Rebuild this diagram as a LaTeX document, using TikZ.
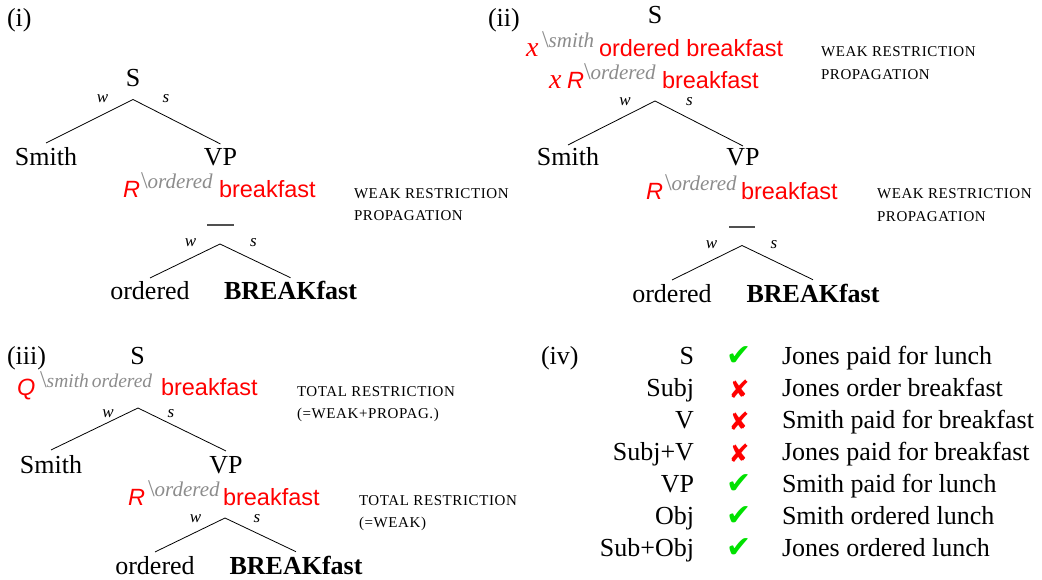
\documentclass[tikz,border=0pt]{standalone}
\usepackage{fontspec}
\setmainfont{Liberation Serif}
\newfontfamily\hv{Liberation Sans}
\newfontfamily\scf[LetterSpace=4]{Liberation Serif}
\newfontfamily\djv{DejaVu Sans}
\definecolor{okgreen}{RGB}{0,225,0}
\definecolor{supgray}{RGB}{140,140,140}
\definecolor{dashgray}{RGB}{80,80,80}
\newcommand\mybsl{{\upshape\fontsize{24}{24}\selectfont\textbackslash}}
\tikzset{
  every node/.style={inner sep=0pt, outer sep=0pt},
  word/.style={font=\fontsize{26}{30}\selectfont, anchor=base},
  bw/.style={font=\fontsize{26}{30}\selectfont\bfseries, anchor=base},
  wlab/.style={font=\fontsize{17}{20}\selectfont\itshape, anchor=base},
  rsans/.style={text=red, font=\hv\fontsize{23.5}{28}\selectfont, anchor=base west},
  rsansit/.style={text=red, font=\hv\itshape\fontsize{23.5}{28}\selectfont, anchor=base west},
  rserit/.style={text=red, font=\itshape\fontsize{28}{30}\selectfont, anchor=base west},
  supg/.style={text=supgray, font=\itshape\fontsize{21}{24}\selectfont, anchor=base west},
  note/.style={font=\scf\fontsize{15}{18}\selectfont, anchor=base west},
  branch/.style={line width=0.8pt},
  gapline/.style={line width=2pt, draw=dashgray},
  okmark/.style={text=okgreen, font=\djv\fontsize{30}{30}\selectfont, anchor=base},
  nomark/.style={text=red, font=\djv\fontsize{25}{30}\selectfont, anchor=base},
  lbl/.style={font=\fontsize{26}{30}\selectfont, anchor=base east},
  sent/.style={font=\fontsize{26}{30}\selectfont, anchor=base west},
}
\begin{document}
\begin{tikzpicture}[x=1pt, y=-1pt]
\useasboundingbox (0,0) rectangle (1042,580);

% ---------- (i) ----------
\node[word, anchor=base west] (lab1) at (7,27) {(i)};
\node[word] (s1) at (133,87) {S};
\coordinate (a1) at ([yshift=-12.5pt]s1.base);
\node[wlab] (w1) at (102.5,103) {w};
\node[wlab] (ss1) at (166,103) {s};
\node[word] (smith1) at (46,166) {Smith};
\node[word] (vp1) at (220.5,166) {VP};
\draw[branch] (a1) -- ([yshift=5pt]smith1.north);
\draw[branch] (a1) -- ([yshift=5pt]vp1.north);
\node[rsansit] (r1) at (123,198) {R};
\node[supg] (sup1) at (141,189) {\mybsl ordered};
\node[rsans] (bf1) at (219,198) {breakfast};
\node[note] (n1a) at (354,199) {WEAK RESTRICTION};
\node[note] (n1b) at (354,221) {PROPAGATION};
\draw[gapline] (207,225) -- (234,225);
\coordinate (a1b) at (220,244);
\node[wlab] (w1b) at (190.5,247) {w};
\node[wlab] (ss1b) at (253.5,247) {s};
\node[word] (ord1) at (150,300) {ordered};
\node[bw] (bk1) at (290.5,300) {BREAKfast};
\draw[branch] (a1b) -- ([yshift=4pt]ord1.north);
\draw[branch] (a1b) -- ([yshift=4pt]bk1.north);

% ---------- (ii) ----------
\node[word, anchor=base west] (lab2) at (488,27) {(ii)};
\node[word] (s2) at (655,24) {S};
\node[rserit] (x2a) at (526,57) {x};
\node[supg] (sup2a) at (542,48) {\mybsl smith};
\node[rsans] (ob2) at (599,57) {ordered breakfast};
\node[rserit] (x2b) at (549,89) {x};
\node[rsansit] (r2b) at (567,89) {R};
\node[supg] (sup2b) at (584,80) {\mybsl ordered};
\node[rsans] (bf2b) at (662,89) {breakfast};
\node[note] (n2a) at (821,57) {WEAK RESTRICTION};
\node[note] (n2b) at (821,80) {PROPAGATION};
\coordinate (a2) at (655,101);
\node[wlab] (w2) at (625,106) {w};
\node[wlab] (ss2) at (689.5,106) {s};
\node[word] (smith2) at (568,166) {Smith};
\node[word] (vp2) at (743,166) {VP};
\draw[branch] (a2) -- ([yshift=3pt]smith2.north);
\draw[branch] (a2) -- ([yshift=3pt]vp2.north);
\node[rsansit] (r2c) at (646,200) {R};
\node[supg] (sup2c) at (665,191) {\mybsl ordered};
\node[rsans] (bf2c) at (741,200) {breakfast};
\node[note] (n2c) at (877,199) {WEAK RESTRICTION};
\node[note] (n2d) at (877,222) {PROPAGATION};
\draw[gapline] (729,227) -- (755,227);
\coordinate (a2b) at (742,245.5);
\node[wlab] (w2b) at (711.5,249) {w};
\node[wlab] (ss2b) at (774,249) {s};
\node[word] (ord2) at (672,302) {ordered};
\node[bw] (bk2) at (813,302) {BREAKfast};
\draw[branch] (a2b) -- ([yshift=4pt]ord2.north);
\draw[branch] (a2b) -- ([yshift=4pt]bk2.north);

% ---------- (iii) ----------
\node[word, anchor=base west] (lab3) at (7,364) {(iii)};
\node[word] (s3) at (137.5,364) {S};
\node[rsansit] (q3) at (17,395) {Q};
\node[supg, font=\itshape\fontsize{19.5}{24}\selectfont] (sup3a) at (40,387) {\mybsl smith\kern3pt ordered};
\node[rsans] (bf3a) at (161,395) {breakfast};
\node[note] (n3a) at (297,396) {TOTAL RESTRICTION};
\node[note] (n3b) at (297,418) {(=WEAK+PROPAG.)};
\coordinate (a3) at (138,408);
\node[wlab] (w3) at (108,417) {w};
\node[wlab] (ss3) at (171,417) {s};
\node[word] (smith3) at (51,473) {Smith};
\node[word] (vp3) at (226,473) {VP};
\draw[branch] (a3) -- ([yshift=5pt]smith3.north);
\draw[branch] (a3) -- ([yshift=5pt]vp3.north);
\node[rsansit] (r3) at (128,505) {R};
\node[supg] (sup3b) at (148,496) {\mybsl ordered};
\node[rsans] (bf3b) at (223,505) {breakfast};
\node[note] (n3c) at (359,505) {TOTAL RESTRICTION};
\node[note] (n3d) at (359,527) {(=WEAK)};
\coordinate (a3b) at (225,518);
\node[wlab] (w3b) at (195.5,522) {w};
\node[wlab] (ss3b) at (257,522) {s};
\node[word] (ord3) at (155,574) {ordered};
\node[bw] (bk3) at (296,574) {BREAKfast};
\draw[branch] (a3b) -- ([yshift=4pt]ord3.north);
\draw[branch] (a3b) -- ([yshift=4pt]bk3.north);

% ---------- (iv) ----------
\node[word, anchor=base west] (lab4) at (541,364) {(iv)};
\node[lbl] (l1) at (694,364) {S};
\node[lbl] (l2) at (694,396) {Subj};
\node[lbl] (l3) at (694,428) {V};
\node[lbl] (l4) at (694,460) {Subj+V};
\node[lbl] (l5) at (694,492) {VP};
\node[lbl] (l6) at (694,524) {Obj};
\node[lbl] (l7) at (694,556) {Sub+Obj};
\node[okmark] (m1) at (739,365) {✔};
\node[nomark] (m2) at (739,398) {✘};
\node[nomark] (m3) at (739,430) {✘};
\node[nomark] (m4) at (739,462) {✘};
\node[okmark] (m5) at (739,493) {✔};
\node[okmark] (m6) at (739,525) {✔};
\node[okmark] (m7) at (739,557) {✔};
\node[sent] (t1) at (782,364) {Jones paid for lunch};
\node[sent] (t2) at (782,396) {Jones order breakfast};
\node[sent] (t3) at (782,428) {Smith paid for breakfast};
\node[sent] (t4) at (782,460) {Jones paid for breakfast};
\node[sent] (t5) at (782,492) {Smith paid for lunch};
\node[sent] (t6) at (782,524) {Smith ordered lunch};
\node[sent] (t7) at (782,556) {Jones ordered lunch};
\end{tikzpicture}
\end{document}
